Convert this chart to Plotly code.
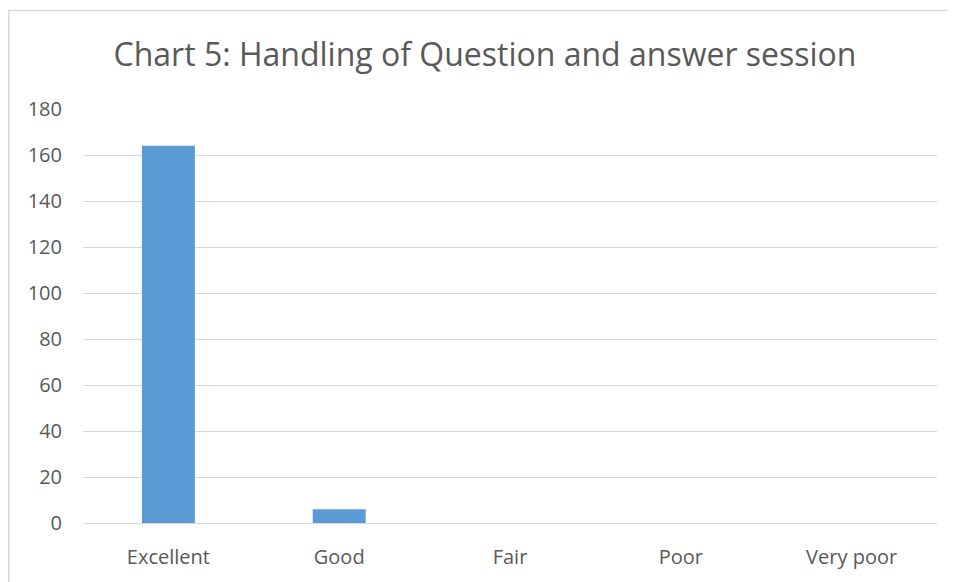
import plotly.graph_objects as go

categories = ["Excellent", "Good", "Fair", "Poor", "Very poor"]
values = [164, 6, 0, 0, 0]
y_ticks = [0, 20, 40, 60, 80, 100, 120, 140, 160, 180]
title_text = "Chart 5: Handling of Question and answer session"

# page body has an 8px margin; compensate
W, H = 948, 574
L, R, T, B = 75, 19, 101, 57
pw, ph = W - L - R, H - T - B

fig = go.Figure(go.Bar(x=categories, y=values, marker=dict(color="#5b9bd5", line=dict(width=0))))

font_family = "Open Sans, Liberation Sans, sans-serif"
fig.update_layout(
    width=W, height=H,
    margin=dict(l=L, r=R, t=T, b=B, pad=0),
    paper_bgcolor="white", plot_bgcolor="white",
    bargap=0.69,
    showlegend=False,
    font=dict(family=font_family, color="#595959", size=20),
    title=dict(text=title_text, x=(477 - L) / pw, xref="paper", xanchor="center",
               y=1 - 47 / H, yanchor="middle", yref="container",
               font=dict(size=32, color="#595959", family=font_family)),
    shapes=[dict(type="rect", xref="paper", yref="paper",
                 x0=(0.75 - L) / pw, x1=(W + 30 - L) / pw,
                 y0=-0.4, y1=(H - B - 2) / ph,
                 line=dict(color="#d9d9d9", width=1.5), fillcolor="rgba(0,0,0,0)", layer="below")],
)
fig.update_xaxes(showgrid=False, showline=True, linecolor="#d9d9d9", linewidth=1,
                 ticks="", ticklabelstandoff=16, tickfont=dict(size=20))
fig.update_yaxes(range=[0, 180], tickvals=y_ticks, showgrid=True, gridcolor="#d9d9d9",
                 gridwidth=1, zeroline=False, showline=False, ticks="",
                 ticklabelstandoff=20, tickfont=dict(size=20))

fig.write_html("out.html")
